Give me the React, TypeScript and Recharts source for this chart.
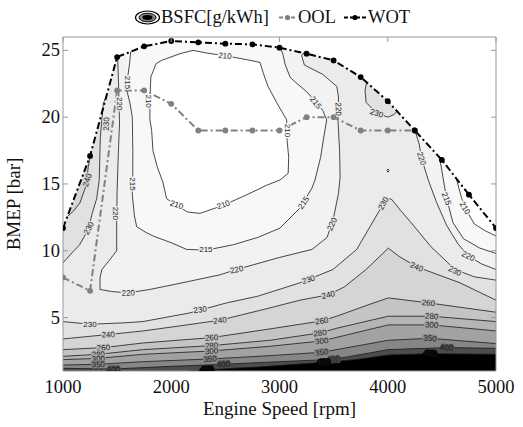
import React from 'react';
import { ComposedChart, Area, Line, Scatter, XAxis, YAxis } from 'recharts';

// ---------- data ----------
const SPEED_TICKS = [1000, 2000, 3000, 4000, 5000];
const BMEP_TICKS = [5, 10, 15, 20, 25];

const wotSpeed = [1000, 1250, 1500, 1750, 2000, 2250, 2500, 2750, 3000, 3250, 3500, 3750, 4000, 4250, 4500, 4750, 5000];
const wotBmep = [11.7, 17.1, 24.5, 25.3, 25.7, 25.6, 25.5, 25.45, 25.2, 24.75, 24.25, 23.0, 21.2, 19.0, 16.8, 14.2, 11.7];

const oolSpeed = [1000, 1250, 1500, 1750, 2000, 2250, 2500, 2750, 3000, 3250, 3500, 3750, 4000, 4250];
const oolBmep = [8.0, 7.0, 22.0, 22.0, 21.0, 19.0, 19.0, 19.0, 19.0, 20.0, 20.0, 19.0, 19.0, 19.0];

// contour lines [speed, bmep] in path order
const c210 = [[1803,21.0],[1811,23.0],[1860,24.0],[1911,24.25],[2081,24.75],[2201,25.0],[2327,24.8],[2497,24.6],[2700,24.3],[2820,24.1],[2850,23.3],[2894,22.3],[2980,21.0],[3066,19.8],[3070,18.3],[3085,17.0],[3080,15.8],[3005,15.3],[2880,14.9],[2700,14.2],[2481,13.4],[2266,12.8],[2150,12.9],[2050,13.4],[1957,13.9],[1924,15.1],[1870,16.3],[1831,17.5],[1819,19.0],[1803,19.8],[1803,21.0]];
const c210r = [[4637,15.3],[4680,14.0],[4714,13.2],[4800,12.0],[4900,11.5],[5000,11.1]];
const c215 = [[1625,24.9],[1615,24.0],[1594,22.8],[1590,22.0],[1620,21.0],[1640,20.0],[1645,17.5],[1645,15.3],[1640,14.2],[1660,12.6],[1681,11.8],[1760,11.4],[1834,11.1],[2000,10.6],[2143,10.1],[2327,10.05],[2573,10.45],[2800,11.0],[3005,11.7],[3189,13.2],[3300,14.7],[3328,15.3],[3380,17.0],[3405,18.3],[3436,19.8],[3400,20.5],[3330,21.2],[3251,21.9],[3150,22.6],[3097,23.0],[3050,24.0],[3035,24.6],[3010,25.2]];
const c215r = [[4480,16.95],[4510,15.5],[4544,13.9],[4603,12.1],[4700,10.9],[4850,10.2],[5000,9.8]];
const c220 = [[1505,24.5],[1515,22.0],[1522,19.5],[1511,17.3],[1500,14.5],[1496,12.5],[1496,10.0],[1420,9.2],[1360,8.6],[1342,8.0],[1342,7.1],[1450,6.95],[1600,6.85],[1800,7.1],[2100,7.6],[2450,8.2],[2604,8.6],[3000,9.5],[3300,10.1],[3440,11.0],[3500,12.5],[3545,14.3],[3560,15.5],[3555,17.5],[3540,19.8],[3545,21.5],[3530,22.3],[3400,23.2],[3230,23.9],[3205,24.6],[3225,24.85]];
const c220r = [[4252,19.0],[4290,18.0],[4313,16.9],[4374,15.3],[4452,13.6],[4544,11.9],[4650,10.5],[4744,9.6],[4870,9.0],[5000,8.6]];
const c230L = [[1400,21.55],[1372,21.0],[1345,18.5],[1340,17.0],[1335,15.3],[1311,13.9],[1270,12.8],[1234,11.6],[1150,10.4],[1100,10.0],[1000,9.1]];
const c230T = [[3805,22.6],[3790,22.0],[3800,21.1],[3898,20.3],[4000,20.0],[4060,20.2],[4085,20.45]];
const c230D = [[3992,16.0],[4002,16.12],[4012,16.0],[4002,15.88],[3992,16.0]];
const c240L = [[1040,12.56],[1100,13.0],[1157,13.6],[1210,14.8],[1234,16.3],[1255,17.25]];
const c230 = [[1000,4.7],[1250,4.5],[1554,4.6],[1739,4.7],[2173,5.35],[2512,6.1],[2800,6.6],[3189,7.6],[3494,8.6],[3713,10.1],[3836,11.8],[3929,13.1],[4005,13.9],[4036,13.85],[4120,13.0],[4206,12.2],[4400,10.3],[4621,8.6],[4800,8.05],[5000,7.8]];
const c240 = [[1000,3.4],[1418,3.73],[1742,4.0],[2100,4.4],[2450,4.8],[2900,5.7],[3189,6.3],[3451,6.7],[3600,7.3],[3800,8.6],[3929,9.6],[4005,10.2],[4100,9.6],[4267,8.8],[4667,7.6],[5000,6.3]];
const c260 = [[1000,2.6],[1373,2.75],[1742,3.1],[2373,3.5],[2912,4.15],[3390,4.75],[3528,5.1],[3836,6.0],[4005,6.47],[4375,6.1],[5000,5.4]];
const c280 = [[1000,2.1],[1326,2.25],[1742,2.6],[2373,2.9],[2912,3.3],[3374,3.85],[3528,4.2],[4005,5.1],[4406,5.1],[5000,4.7]];
const c300 = [[1000,1.85],[1326,1.95],[1742,2.25],[2373,2.5],[2912,2.85],[3390,3.25],[4005,4.45],[4406,4.45],[5000,4.0]];
const c350 = [[1000,1.45],[1326,1.5],[1742,1.7],[2359,1.9],[2912,2.15],[3390,2.4],[4005,3.3],[4390,3.45],[5000,3.05]];
const c400 = [[1000,1.2],[1465,1.15],[2000,1.35],[2481,1.5],[3000,1.7],[3497,1.87],[4005,2.6],[4544,2.75],[5000,2.7]];
const c450 = [[2150,1.0],[2327,1.1],[2800,1.3],[3405,1.65],[3700,1.85],[4005,2.2],[4390,2.3],[5000,2.25]];

// filled regions [speed, low, high] (upper part clipped by the WOT mask)
const r210 = [[1803,19.8,21.0],[1811,19.4,23.0],[1831,17.5,23.6],[1870,16.3,24.0],[1911,15.4,24.25],[1924,15.1,24.3],[1957,13.9,24.4],[2050,13.4,24.6],[2081,13.3,24.75],[2150,12.9,24.9],[2201,12.85,25.0],[2266,12.8,24.9],[2327,12.95,24.8],[2481,13.4,24.6],[2700,14.2,24.3],[2820,14.7,24.1],[2850,14.75,23.3],[2880,14.9,22.6],[2894,14.95,22.3],[2980,15.2,21.0],[3005,15.3,20.6],[3066,15.7,19.8],[3075,15.75,18.3],[3085,17.0,17.0]];
const r215 = [[1590,22.0,26],[1620,21.0,26],[1640,14.4,26],[1645,13.9,26],[1660,12.6,26],[1681,11.8,26],[1760,11.4,26],[1834,11.1,26],[2000,10.6,26],[2143,10.1,26],[2327,10.05,26],[2573,10.45,26],[2800,11.0,26],[3005,11.7,26],[3035,11.95,24.6],[3050,12.1,24.0],[3097,12.5,23.0],[3150,12.9,22.6],[3189,13.2,22.3],[3251,14.1,21.9],[3300,14.7,21.5],[3330,15.35,21.2],[3380,17.0,20.8],[3405,18.3,20.4],[3436,19.8,19.8]];
const r220 = [[1342,7.1,8.0],[1360,7.05,8.6],[1420,7.0,9.2],[1496,6.95,10.0],[1500,6.94,14.5],[1505,6.93,26],[1600,6.85,26],[1800,7.1,26],[2100,7.6,26],[2450,8.2,26],[2604,8.6,26],[3000,9.5,26],[3205,9.95,26],[3230,10.0,23.9],[3300,10.1,23.6],[3400,10.75,23.2],[3440,11.0,23.0],[3500,12.5,22.7],[3530,13.6,22.3],[3545,14.3,21.5],[3550,14.6,20.5],[3560,15.5,17.5]];
const r210r = [[4637,15.3,26],[4680,14.0,26],[4714,13.2,26],[4800,12.0,26],[4900,11.5,26],[5000,11.1,26]];
const r215r = [[4480,16.95,26],[4510,15.5,26],[4544,13.9,26],[4603,12.1,26],[4700,10.9,26],[4850,10.2,26],[5000,9.8,26]];
const r220r = [[4252,19.0,26],[4290,18.0,26],[4313,16.9,26],[4374,15.3,26],[4452,13.6,26],[4544,11.9,26],[4650,10.5,26],[4744,9.6,26],[4870,9.0,26],[5000,8.6,26]];
const r230L = [[1000,9.1,26],[1100,10.0,26],[1150,10.4,26],[1234,11.6,26],[1270,12.8,26],[1311,13.9,26],[1335,15.3,26],[1340,17.0,26],[1345,18.5,26],[1372,21.0,26],[1400,21.55,26]];
const r230T = [[3790,22.0,26],[3800,21.1,26],[3898,20.3,26],[4000,20.0,26],[4060,20.2,26],[4085,20.45,26]];
const r240L = [[1040,12.56,26],[1100,13.0,26],[1157,13.6,26],[1210,14.8,26],[1234,16.3,26],[1255,17.25,26]];
const rAll = [[1000,1,26],[5000,1,26]];

// contour labels [value, speed, bmep, angle]
const contourLabels = [
  [240,1222,15.3,-72],[230,1398,19.5,-88],[230,1236,11.7,-62],[220,1524,21.0,90],[220,1492,12.8,90],
  [215,1600,22.6,90],[215,1648,15.0,90],[210,1795,21.2,90],[210,2497,24.6,4],[210,3075,19.0,90],
  [210,2050,13.45,18],[210,2481,13.45,-20],[215,2320,10.1,0],[215,3222,13.6,-55],[215,3335,21.1,52],
  [220,3545,20.6,88],[220,1603,6.85,-2],[220,2604,8.6,-12],[220,3485,12.0,-65],[230,3898,20.3,18],
  [220,4313,16.9,72],[215,4544,13.9,68],[210,4714,13.2,58],[220,4744,9.6,28],[230,4621,8.5,28],
  [240,4267,8.8,22],[230,3959,13.55,-60],[230,1249,4.5,0],[230,2266,5.6,-8],[230,3267,7.85,-18],
  [240,1418,3.73,-2],[240,2450,4.8,-6],[240,3451,6.7,-12],[260,1373,2.75,-2],[260,2373,3.5,-4],
  [260,3390,4.75,-8],[260,4375,6.1,6],[280,1326,2.25,-2],[280,2373,2.9,-4],[280,3374,3.85,-6],
  [280,4406,5.1,4],[300,1326,1.92,-2],[300,2373,2.5,-4],[300,3390,3.25,-6],[300,4406,4.45,4],
  [350,1326,1.5,-2],[350,2359,1.9,-4],[350,3390,2.4,-6],[350,4390,3.45,5],[400,1465,1.12,-1],
  [400,2481,1.5,-3],[400,3497,1.87,-5],[400,4544,2.74,2],[450,2327,1.1,-3],[450,3405,1.65,-5],[450,4390,2.3,2],
];

// ---------- styles ----------
const SERIF = '"Liberation Serif", "DejaVu Serif", serif';
const SANS = '"Liberation Sans", Arial, sans-serif';
const BAND: Record<string, string> = {
  w: '#ffffff', b210: '#f8f8f8', b215: '#f2f2f2', b220: '#ebebeb', b230: '#e1e1e1', b240: '#d5d5d5',
  b260: '#c4c4c4', b280: '#b5b5b5', b300: '#a2a2a2', b350: '#868686', b400: '#4d4d4d', b450: '#000000',
};
const labelBg = (v: number) => BAND['b' + v] || '#ffffff';

const xy = (pts: number[][]) => pts.map(([x, y]) => ({ x, y }));
const rng = (pts: number[][]) => pts.map(([x, lo, hi]) => ({ x, r: [lo, hi] }));
const wotData = wotSpeed.map((x, i) => ({ x, y: wotBmep[i] }));
const oolData = oolSpeed.map((x, i) => ({ x, y: oolBmep[i] }));
const maskData = wotSpeed.map((x, i) => ({ x, r: [wotBmep[i], 26] }));
const labelData = contourLabels.map(([v, x, y, a]) => ({ x, y, t: String(v), a, bg: labelBg(v) }));

const regions: [number[][], string][] = [
  [rAll, BAND.b220], [r230L, BAND.b230], [r240L, BAND.b240], [r230T, BAND.b230],
  [r220, BAND.b215], [r220r, BAND.b215], [r215, BAND.b210], [r215r, BAND.b210],
  [r210, BAND.w], [r210r, BAND.w],
];
const bands: [number[][], string][] = [
  [c230, BAND.b230], [c240, BAND.b240], [c260, BAND.b260], [c280, BAND.b280],
  [c300, BAND.b300], [c350, BAND.b350], [c400, BAND.b400], [c450, BAND.b450],
];
const contours = [c210, c210r, c215, c215r, c220, c220r, c230L, c230T, c230D, c240L, c230, c240, c260, c280, c300, c350, c400, c450];

const rangeKey = (d: any) => d.r;

const LabelShape = (p: any) => {
  const { cx, cy, payload } = p;
  if (cx == null || cy == null) return <g />;
  return (
    <text x={cx} y={cy} dy="0.35em" transform={`rotate(${payload.a} ${cx} ${cy})`} textAnchor="middle"
      fontSize={8} fontFamily={SANS} fill="#1a1a1a" stroke={payload.bg} strokeWidth={2.5}
      style={{ paintOrder: 'stroke', fill: '#1a1a1a' }}>{payload.t}</text>
  );
};

const BottomTick = (p: any) => (
  <text x={p.x} y={p.y + 22} textAnchor="middle" fontSize={18.5} fontFamily={SERIF} fill="#111">{p.payload.value}</text>
);
const LeftTick = (p: any) => (
  <g>
    <text x={p.x} y={p.y} dy="0.33em" textAnchor="end" fontSize={18.5} fontFamily={SERIF} fill="#111">{p.payload.value}</text>
    <line x1={p.x + 3} x2={p.x + 8} y1={p.y} y2={p.y} stroke="#999" />
  </g>
);
const TopTick = (p: any) => <line x1={p.x} x2={p.x} y1={p.y} y2={p.y + 5} stroke="#999" />;
const RightTick = (p: any) => <line x1={p.x} x2={p.x - 5} y1={p.y} y2={p.y} stroke="#999" />;

const XTitle = (p: any) => {
  const vb = p.viewBox || { x: 63, y: 371, width: 433, height: 56 };
  return <text x={vb.x + vb.width / 2} y={vb.y + 44} textAnchor="middle" fontSize={19} fontFamily={SERIF} fill="#111">Engine Speed [rpm]</text>;
};
const YTitle = (p: any) => {
  const vb = p.viewBox || { x: 0, y: 37, width: 63, height: 334 };
  const cx = vb.x + 20;
  const cy = vb.y + vb.height / 2;
  return <text x={cx} y={cy} transform={`rotate(-90 ${cx} ${cy})`} textAnchor="middle" fontSize={19} fontFamily={SERIF} fill="#111">BMEP [bar]</text>;
};

const LegendBar = () => (
  <svg width={523} height={34} style={{ position: 'absolute', left: 0, top: 0 }}>
    <ellipse cx={147.5} cy={17.5} rx={12} ry={6.5} fill="#fff" stroke="#000" strokeWidth={1.2} />
    <ellipse cx={147.5} cy={17.5} rx={8.5} ry={4.3} fill="#888" stroke="#000" strokeWidth={1} />
    <ellipse cx={147.5} cy={17.5} rx={5} ry={2.4} fill="#000" />
    <text x={161} y={23} fontSize={18.5} fontFamily={SERIF} fill="#111">BSFC[g/kWh]</text>
    <line x1={279} x2={296} y1={17.5} y2={17.5} stroke="#808080" strokeWidth={2} strokeDasharray="4 2" />
    <circle cx={287.5} cy={17.5} r={2.6} fill="#808080" />
    <text x={298} y={23} fontSize={18.5} fontFamily={SERIF} fill="#111">OOL</text>
    <line x1={344} x2={366} y1={17.5} y2={17.5} stroke="#000" strokeWidth={2} strokeDasharray="4 2" />
    <circle cx={355} cy={17.5} r={2.6} fill="#000" />
    <text x={368} y={23} fontSize={18.5} fontFamily={SERIF} fill="#111">WOT</text>
  </svg>
);

export default function App() {
  return (
    <div style={{ position: 'absolute', left: 0, top: 0, width: 523, height: 427, background: '#fff' }}>
      <ComposedChart width={523} height={427} margin={{ top: 7, right: 0, bottom: 0, left: 0 }}>
        <XAxis dataKey="x" type="number" domain={[1000, 5000]} ticks={SPEED_TICKS} allowDataOverflow
          height={56} tickLine={false} tickSize={0} tickMargin={0} axisLine={{ stroke: '#999' }}
          tick={<BottomTick />} label={<XTitle />} />
        <XAxis xAxisId="top" orientation="top" dataKey="x" type="number" domain={[1000, 5000]} ticks={SPEED_TICKS}
          allowDataOverflow height={30} tickLine={false} tickSize={0} tickMargin={0} axisLine={{ stroke: '#999' }}
          tick={<TopTick />} />
        <YAxis type="number" domain={[1, 26]} ticks={BMEP_TICKS} allowDataOverflow width={63}
          tickLine={false} tickSize={0} tickMargin={3} axisLine={{ stroke: '#999' }}
          tick={<LeftTick />} label={<YTitle />} />
        <YAxis yAxisId="right" orientation="right" type="number" domain={[1, 26]} ticks={BMEP_TICKS} allowDataOverflow
          width={27} tickLine={false} tickSize={0} tickMargin={0} axisLine={{ stroke: '#999' }} tick={<RightTick />} />

        {regions.map(([pts, fill], i) => (
          <Area key={'reg' + i} data={rng(pts)} dataKey={rangeKey} type="linear" fill={fill} fillOpacity={1}
            stroke="none" isAnimationActive={false} dot={false} activeDot={false} />
        ))}
        <Area data={maskData} dataKey={rangeKey} type="linear" fill="#ffffff" fillOpacity={1} stroke="none"
          isAnimationActive={false} dot={false} activeDot={false} />
        {bands.map(([pts, fill], i) => (
          <Area key={'band' + i} data={xy(pts)} dataKey="y" baseValue="dataMin" type="linear" fill={fill}
            fillOpacity={1} stroke="none" isAnimationActive={false} dot={false} activeDot={false} />
        ))}
        {contours.map((pts, i) => (
          <Line key={'c' + i} data={xy(pts)} dataKey="y" type="linear" stroke="#1a1a1a" strokeWidth={0.8}
            dot={false} activeDot={false} isAnimationActive={false} />
        ))}
        <Scatter data={labelData} dataKey="y" fill="#1a1a1a" shape={<LabelShape />} isAnimationActive={false} />
        <Line data={oolData} dataKey="y" type="linear" stroke="#808080" strokeWidth={2} strokeDasharray="7 3 2 3"
          dot={{ r: 2.9, fill: '#808080', stroke: 'none', strokeWidth: 0, strokeDasharray: '' }} activeDot={false} isAnimationActive={false} />
        <Line data={wotData} dataKey="y" type="linear" stroke="#000" strokeWidth={2} strokeDasharray="7 3 2 3"
          dot={{ r: 2.9, fill: '#000', stroke: 'none', strokeWidth: 0, strokeDasharray: '' }} activeDot={false} isAnimationActive={false} />
      </ComposedChart>
      <LegendBar />
    </div>
  );
}
